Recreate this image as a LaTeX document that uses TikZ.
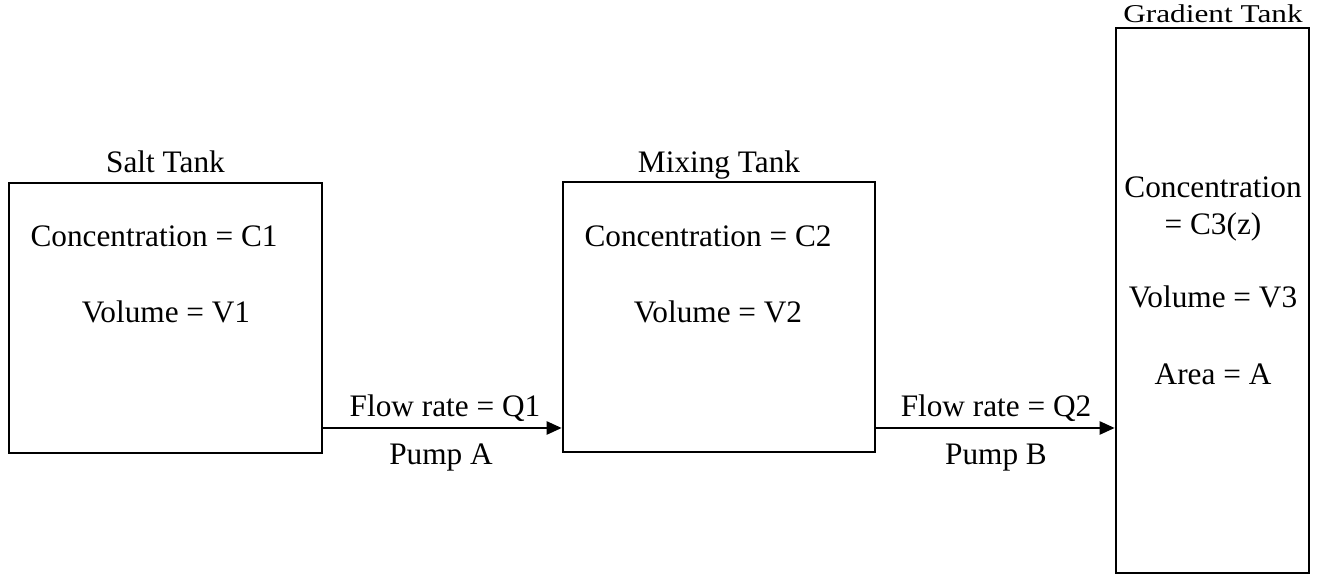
\documentclass[tikz,border=0pt]{standalone}
\usepackage{fontspec}
\setmainfont{Liberation Serif}
\usepackage{tikz}
\usetikzlibrary{positioning, arrows.meta}

\begin{document}
\begin{tikzpicture}[
        font=\fontsize{17.8}{21}\selectfont,
        tank/.style={
            rectangle, draw=black, line width=1.5pt, inner sep=0pt
        },
        label/.style={anchor=base, inner sep=0pt},
        flow/.style={draw=black, line width=1.4pt, -{Triangle[length=0.3cm, width=0.26cm]}}
    ]

    \useasboundingbox (0, 0) rectangle (26.64, 11.5);

    % TANKS
    \node[tank, minimum width=6.26cm, minimum height=5.4cm] (salt) at (3.31, 5.14) {};
    \node[tank, minimum width=6.24cm, minimum height=5.4cm] (mixing) at (14.38, 5.16) {};
    \node[tank, minimum width=3.86cm, minimum height=10.9cm] (gradient) at (24.25, 5.49) {};

    % TANK TITLES
    \node[label] (saltname) at (3.31, 8.04) {Salt Tank};
    \node[label] (mixingname) at (14.38, 8.04) {Mixing Tank};
    \node[label, yscale=0.82, transform shape] (gradientname) at (24.26, 11.04) {Gradient Tank};

    % SALT TANK
    \node[label] (c1) at (3.08, 6.56) {Concentration = C1};
    \node[label] (v1) at (3.32, 5.04) {Volume = V1};

    % MIXING TANK
    \node[label] (c2) at (14.16, 6.56) {Concentration = C2};
    \node[label] (v2) at (14.36, 5.04) {Volume = V2};

    % GRADIENT TANK
    \node[label] (c3) at (24.26, 7.54) {Concentration};
    \node[label] (c3z) at (24.26, 6.80) {= C3(z)};
    \node[label] (v3) at (24.26, 5.34) {Volume = V3};
    \node[label] (area) at (24.26, 3.80) {Area = A};

    % PUMPS
    \coordinate (pipe) at (0, 2.94);
    \draw[flow] (salt.east |- pipe) -- (mixing.west |- pipe);
    \draw[flow] (mixing.east |- pipe) -- (gradient.west |- pipe);

    \node[label] (q1) at (8.90, 3.16) {Flow rate = Q1};
    \node[label] (pumpa) at (8.82, 2.20) {Pump A};
    \node[label] (q2) at (19.92, 3.16) {Flow rate = Q2};
    \node[label] (pumpb) at (19.92, 2.20) {Pump B};

\end{tikzpicture}
\end{document}
